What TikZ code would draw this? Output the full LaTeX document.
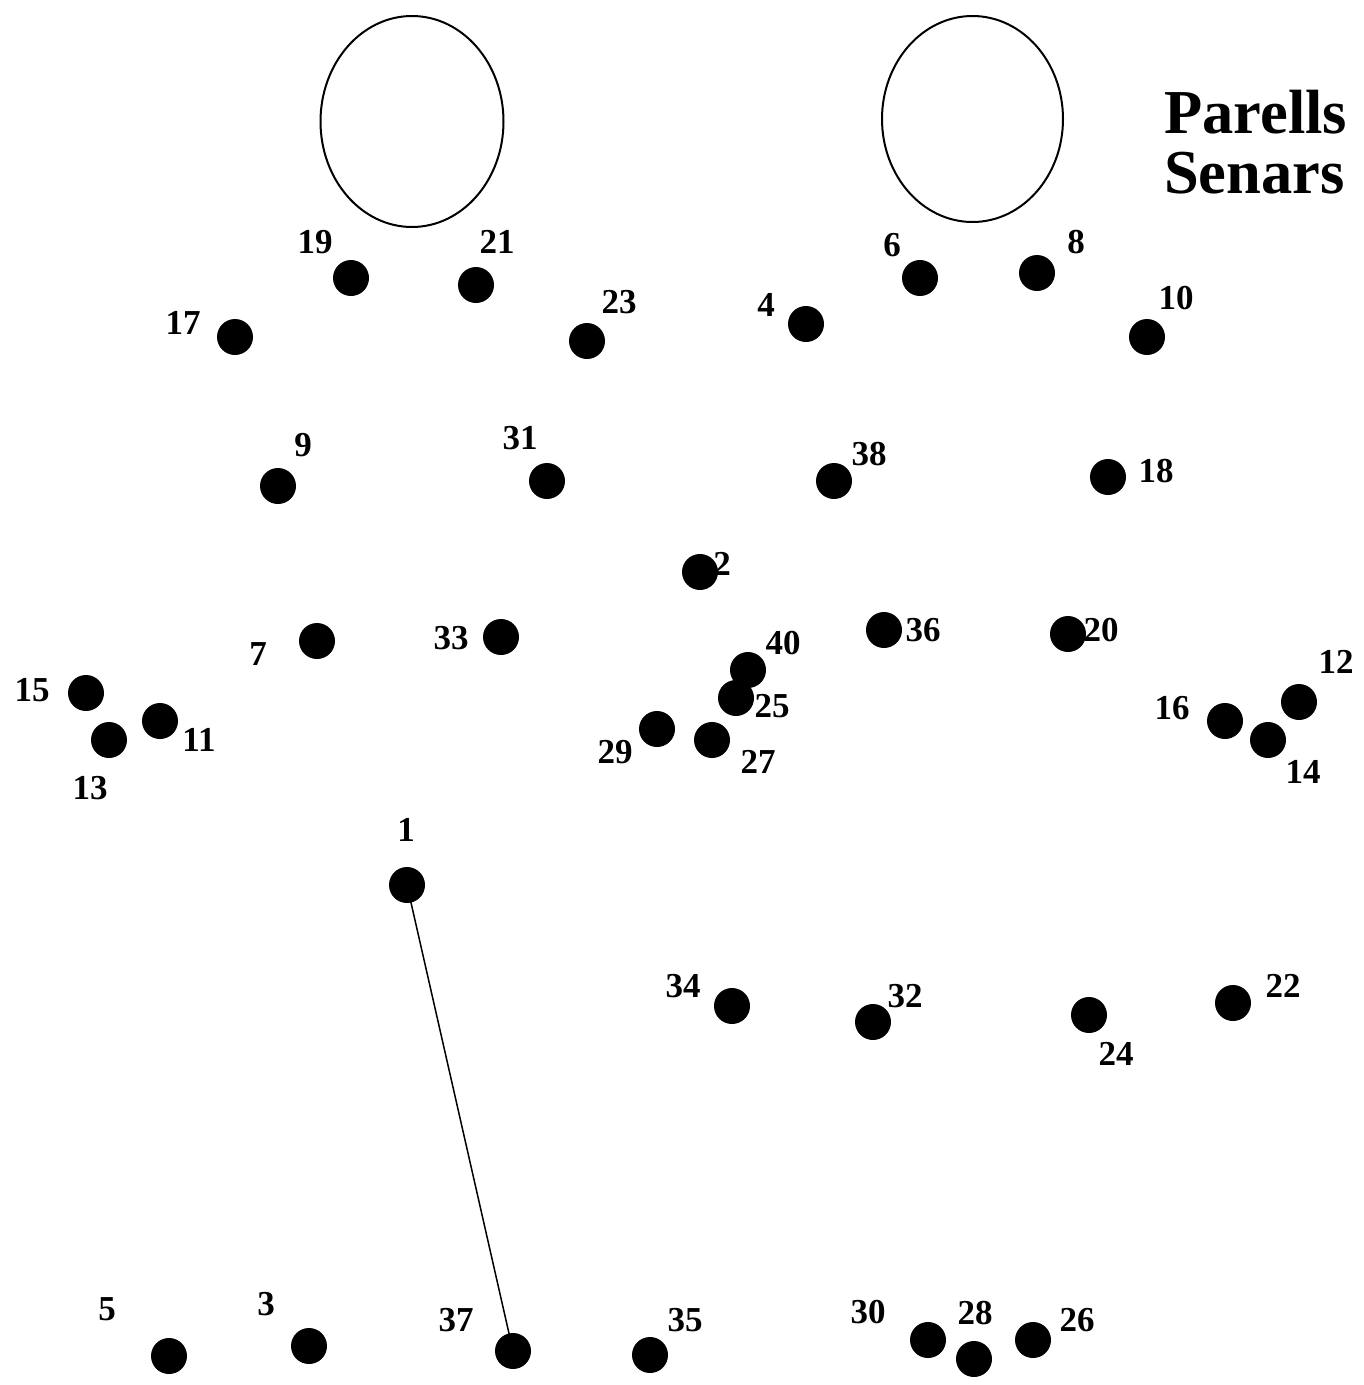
\documentclass[tikz,border=0pt]{standalone}
\usepackage{fontspec}
\setmainfont{Liberation Serif}
\begin{document}
\begin{tikzpicture}[x=1pt,y=-1pt,
  dot/.style={circle,fill=black,inner sep=0pt,minimum size=36pt},
  lbl/.style={inner sep=0pt,font=\fontsize{35}{35}\selectfont\bfseries},
  title/.style={inner sep=0pt,anchor=base west,font=\fontsize{62.5}{62.5}\selectfont\bfseries},
  eye/.style={draw=black,line width=2pt}]
\useasboundingbox (0,0) rectangle (1364,1385);
\draw[eye] (412,121.5) ellipse [x radius=91.5, y radius=105.5];
\draw[eye] (972.5,119) ellipse [x radius=90.5, y radius=103];
\node[title] (t1) at (1164,133) {Parells};
\node[title] (t2) at (1164,193) {Senars};
% dots and labels: name/x/y/lx/ly
\foreach \n/\x/\y/\lx/\ly in {
 19/351/278/315/242, 21/476/285/497/242, 17/235/337/183/323, 23/587/341/619/302,
 4/806/324/766/305, 6/920/278/892/245, 8/1037/273/1076/242, 10/1147/337/1176/298,
 9/278/486/303/445, 31/547/481/520/438, 38/834/481/869/454, 18/1108/477/1156/471,
 2/700/572/722/564, 7/317/641/258/654, 33/501/637/451/638, 36/884/630/923/630,
 20/1068/634/1101/630, 40/748/670/783/643, 25/736/698/772/706, 29/657/729/615/752,
 27/712/740/758/762, 15/86/693/32/690, 11/160/721/199/740, 13/109/740/90/788,
 16/1225/721/1172/708, 12/1299/702/1336/662, 14/1268/740/1303/772,
 1/407/885/406/830, 34/732/1006/683/986, 32/873/1022/905/996, 24/1089/1015/1116/1054,
 22/1233/1003/1283/986, 5/169/1356/107/1309, 3/309/1346/266/1304, 37/513/1351/456/1320,
 35/650/1355/685/1320, 30/928/1340/868/1312, 28/974/1359/975/1313, 26/1033/1340/1077/1320}
{
  \node[dot] (d\n) at (\x,\y) {};
  \node[lbl] (l\n) at (\lx,\ly) {\n};
}
\draw[line width=1.5pt] (d1.center) -- (d37.center);
\end{tikzpicture}
\end{document}
